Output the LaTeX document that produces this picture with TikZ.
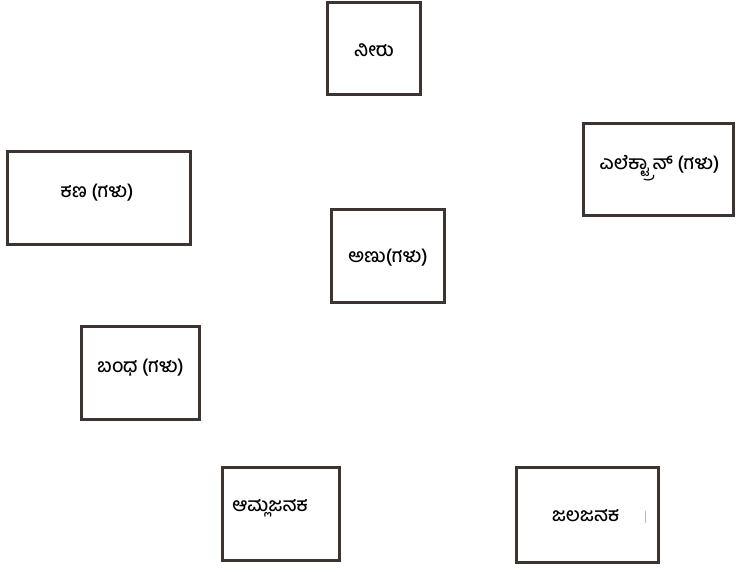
\documentclass[tikz,border=0pt]{standalone}
\usepackage{fontspec}
\newfontfamily\kanfont[Script=Kannada, UprightFont=* Medium]{Hind Mysuru}
\definecolor{boxline}{HTML}{3B3431}
\definecolor{strayline}{HTML}{B8B8B8}
\usepackage{tikz}
\usetikzlibrary{positioning}

\begin{document}
\begin{tikzpicture}[x=1pt, y=-1pt,
  termbox/.style={draw=boxline, line width=3pt, fill=white, inner sep=0pt},
  termtext/.style={font=\kanfont\fontsize{19}{22}\selectfont, inner sep=0pt}]
  \useasboundingbox (0,0) rectangle (736,571);
  \foreach \name/\cx/\cy/\w/\h/\dx/\dy/\txt in {
    neeru/374/48.5/93/92/0/2/ನೀರು,
    kana/99/198/183/93/-2/-5/ಕಣ (ಗಳು),
    electron/658.5/169.5/150/92/1/-1/ಎಲೆಕ್ಟ್ರಾನ್ (ಗಳು),
    anu/388/256/113/93/0/2/ಅಣು(ಗಳು),
    bandha/140.5/373/118/93/0/-5/ಬಂಧ (ಗಳು),
    amla/281/514/117/93/-11/-6/ಆಮ್ಲಜನಕ,
    jala/587.5/515/142/95/-2/1/ಜಲಜನಕ} {
    \node[termbox, minimum width=\w, minimum height=\h] (\name) at (\cx,\cy) {};
    \node[termtext] (\name-txt) at ([shift={(\dx,\dy)}]\name.center) {\txt};
  }
  % stray mark inside the last box
  \draw[strayline, line width=0.8pt] ([shift={(57.5,-4)}]jala.center) -- ([shift={(57.5,8)}]jala.center);
\end{tikzpicture}
\end{document}
